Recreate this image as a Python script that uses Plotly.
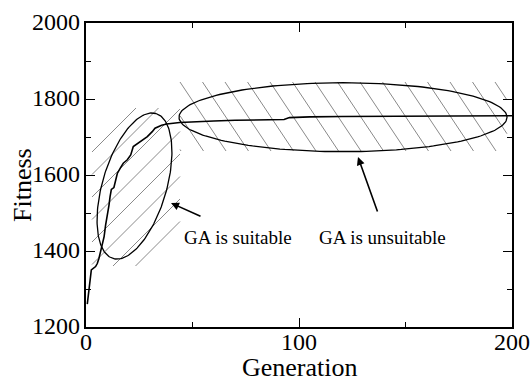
import numpy as np
import plotly.graph_objects as go

# ---- data ----
generation = [0.6, 2.5, 4.5, 5.3, 6.1, 6.9, 7.7, 8.5, 9.2, 10.0, 10.8, 11.3, 11.9, 13.1,
              13.9, 14.7, 16.3, 17.5, 19.4, 21.0, 22.2, 24.1, 26.4, 28.8, 31.1, 32.4,
              35.5, 37.9, 44, 50, 60, 70, 80, 93, 95.5, 105, 120, 150, 175, 200]
fitness = [1260, 1350, 1359, 1367, 1381, 1403, 1416, 1438, 1468, 1490, 1521, 1543, 1562, 1567,
           1587, 1604, 1620, 1631, 1640, 1653, 1675, 1682, 1692, 1701, 1714, 1723,
           1731, 1734, 1738, 1740, 1742, 1744, 1745, 1746, 1751, 1753, 1754, 1755, 1756, 1756]

x_ticks = [0, 100, 200]
y_ticks = [1200, 1400, 1600, 1800, 2000]
labels = ["GA is suitable", "GA is unsuitable"]
x_title = "Generation"
y_title = "Fitness"

# ---- layout geometry ----
W, H = 532, 385
ML, MR, MT, MB = 86, 20, 23, 58
XR = (0, 200)
YR = (1200, 2000)
PW, PH = W - ML - MR, H - MT - MB

def px2x(px):
    return XR[0] + (np.asarray(px, float) - ML) / PW * (XR[1] - XR[0])

def px2y(py):
    return YR[0] + (MT + PH - np.asarray(py, float)) / PH * (YR[1] - YR[0])

def ellipse_px(cx, cy, a, b, phi_deg, n=200):
    t = np.linspace(0, 2 * np.pi, n)
    phi = np.radians(phi_deg)
    ux, uy = np.sin(phi), -np.cos(phi)
    vx, vy = np.cos(phi), np.sin(phi)
    xs = cx + a * np.cos(t) * ux + b * np.sin(t) * vx
    ys = cy + a * np.cos(t) * uy + b * np.sin(t) * vy
    return xs, ys

def clip(p0, p1, rect):
    x0, y0 = p0
    x1, y1 = p1
    xmin, xmax, ymin, ymax = rect
    dx, dy = x1 - x0, y1 - y0
    t0, t1 = 0.0, 1.0
    for p, q in ((-dx, x0 - xmin), (dx, xmax - x0), (-dy, y0 - ymin), (dy, ymax - y0)):
        if p == 0:
            if q < 0:
                return None
        else:
            r = q / p
            if p < 0:
                t0 = max(t0, r)
            else:
                t1 = min(t1, r)
    if t0 > t1:
        return None
    return (x0 + t0 * dx, y0 + t0 * dy), (x0 + t1 * dx, y0 + t1 * dy)

def hatch(rect, slope, consts):
    xs, ys = [], []
    for c in consts:
        p0 = (rect[0] - 50, slope * (rect[0] - 50) + c)
        p1 = (rect[1] + 50, slope * (rect[1] + 50) + c)
        seg = clip(p0, p1, rect)
        if seg:
            xs += [seg[0][0], seg[1][0], None]
            ys += [seg[0][1], seg[1][1], None]
    dx = [None if v is None else float(px2x(v)) for v in xs]
    dy = [None if v is None else float(px2y(v)) for v in ys]
    return dx, dy

fig = go.Figure()

r1 = (92, 180, 108, 266)
c1 = [244 + 22.5 * k for k in range(8)]
hx, hy = hatch(r1, -1.0, c1)
fig.add_trace(go.Scatter(x=hx, y=hy, mode="lines", line=dict(color="#8a8a8a", width=1),
                         hoverinfo="skip", showlegend=False))

r2 = (180, 507, 82, 151)
slope2 = 1.5
c2 = [82 - slope2 * (180 + 22.5 * k) for k in range(-3, 15)]
hx, hy = hatch(r2, slope2, c2)
fig.add_trace(go.Scatter(x=hx, y=hy, mode="lines", line=dict(color="#8a8a8a", width=1),
                         hoverinfo="skip", showlegend=False))

ex, ey = ellipse_px(134.5, 186, 75.6, 32, 16.5)
fig.add_trace(go.Scatter(x=px2x(ex), y=px2y(ey), mode="lines", line=dict(color="black", width=1.3),
                         hoverinfo="skip", showlegend=False))
ex, ey = ellipse_px(343, 117.2, 34.5, 164, 0)
fig.add_trace(go.Scatter(x=px2x(ex), y=px2y(ey), mode="lines", line=dict(color="black", width=1.3),
                         hoverinfo="skip", showlegend=False))

fig.add_trace(go.Scatter(x=generation, y=fitness, mode="lines", line=dict(color="black", width=1.6),
                         showlegend=False))

font = "Liberation Serif, Times New Roman, Times, serif"

fig.add_annotation(x=float(px2x(171)), y=float(px2y(203)), ax=31, ay=14, text="",
                   showarrow=True, arrowhead=2, arrowsize=1, arrowwidth=1.6, arrowcolor="black",
                   xref="x", yref="y")
fig.add_annotation(x=float(px2x(358)), y=float(px2y(157)), ax=20, ay=56, text="",
                   showarrow=True, arrowhead=2, arrowsize=1, arrowwidth=1.6, arrowcolor="black",
                   xref="x", yref="y")
fig.add_annotation(x=float(px2x(237.5)), y=float(px2y(237)), text=labels[0], showarrow=False,
                   xanchor="center", yanchor="middle",
                   font=dict(family=font, size=19, color="black"))
fig.add_annotation(x=float(px2x(382.5)), y=float(px2y(237)), text=labels[1], showarrow=False,
                   xanchor="center", yanchor="middle",
                   font=dict(family=font, size=19, color="black"))

# axis titles
fig.add_annotation(xref="paper", yref="paper", x=(300 - ML) / PW, y=(MT + PH - 367) / PH,
                   text=x_title, showarrow=False, xanchor="center", yanchor="middle",
                   font=dict(family=font, size=26, color="black"))
fig.add_annotation(xref="paper", yref="paper", x=(22 - ML) / PW, y=(MT + PH - 185) / PH,
                   text=y_title, textangle=-90, showarrow=False, xanchor="center", yanchor="middle",
                   font=dict(family=font, size=26, color="black"))

# tick labels placed at the tick values
for v in x_ticks:
    fig.add_annotation(x=v, xref="x", yref="paper", y=(MT + PH - 342) / PH, text=str(v),
                       showarrow=False, xanchor="center", yanchor="middle",
                       font=dict(family=font, size=24, color="black"))
for v in y_ticks:
    fig.add_annotation(x=(82 - ML) / PW, xref="paper", y=v, yref="y", text=str(v),
                       showarrow=False, xanchor="right", yanchor="middle", yshift=1,
                       font=dict(family=font, size=24, color="black"))

axis_common = dict(showgrid=False, zeroline=False, showline=True, linecolor="black", linewidth=1.5,
                   mirror="ticks", ticks="inside", ticklen=9, tickwidth=1.2, tickcolor="black",
                   showticklabels=False)
fig.update_xaxes(range=list(XR), tickvals=x_ticks,
                 minor=dict(ticks="inside", ticklen=5, tickwidth=1.2, tickcolor="black", dtick=50,
                            tick0=0, showgrid=False),
                 **axis_common)
fig.update_yaxes(range=list(YR), tickvals=y_ticks,
                 minor=dict(ticks="inside", ticklen=5, tickwidth=1.2, tickcolor="black", dtick=100,
                            tick0=1200, showgrid=False),
                 **axis_common)

fig.update_layout(width=W, height=H, margin=dict(l=ML, r=MR, t=MT, b=MB, pad=0),
                  paper_bgcolor="white", plot_bgcolor="white", showlegend=False,
                  font=dict(family=font, color="black"))

fig.write_html("out.html")
